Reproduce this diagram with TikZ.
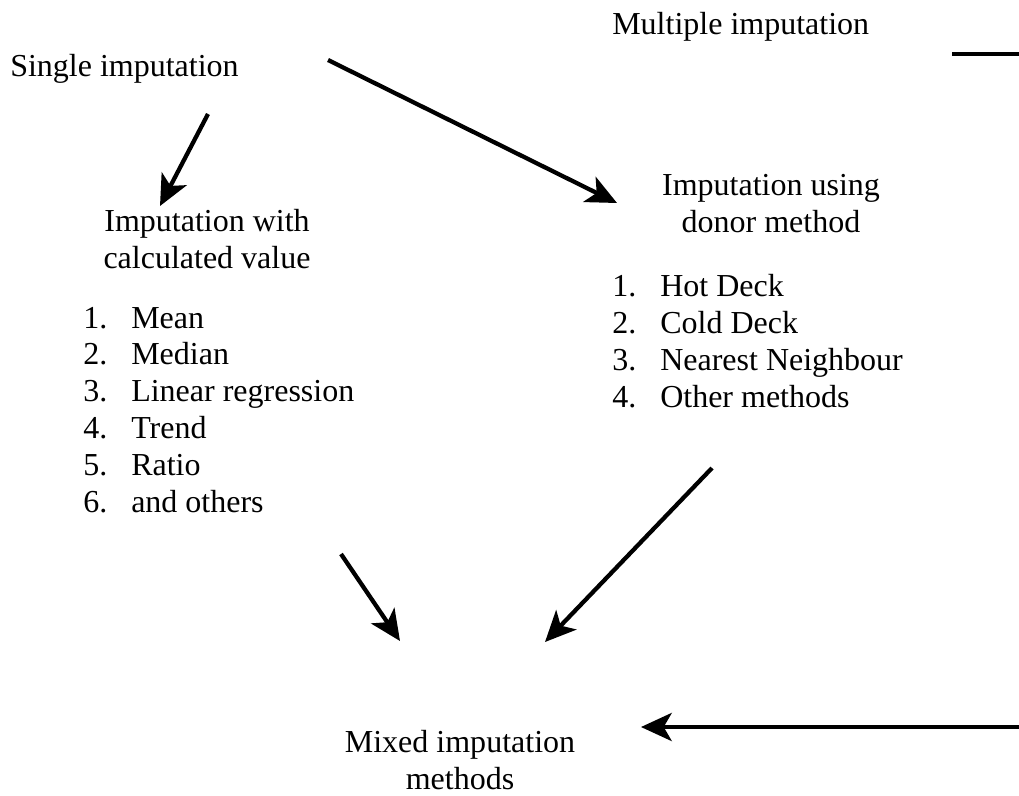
\documentclass[tikz,border=0pt]{standalone}
\usepackage{fontspec}
\setmainfont{Liberation Serif}
\usetikzlibrary{arrows.meta}

\newcommand{\numit}[1]{\makebox[36pt][l]{#1}}

\begin{document}
\begin{tikzpicture}[x=0.75pt,y=-0.75pt,
    txt/.style = {inner sep=0pt, font=\fontsize{24}{27.6}\selectfont},
    arr/.style = {line width=3.2pt, -{Stealth[length=23pt,width=21pt,inset=6pt]}}]
        \useasboundingbox (0,0) rectangle (1019,795);
        % headings (base = baseline of the last line)
        \node[txt, anchor=base west] (single) at (10,77) {Single imputation};
        \node[txt, anchor=base west] (multiple) at (612,35) {Multiple imputation};
        \node[txt, align=center, anchor=base] (calc) at (207,268) {Imputation with\\calculated value};
        \node[txt, align=center, anchor=base] (donor) at (771,232) {Imputation using\\donor method};
        \node[txt, align=center, anchor=base] (mixed) at (460,789) {Mixed imputation\\methods};
        % lists
        \node[txt, align=left, anchor=base west] (calclist) at (83,512) {\numit{1.}Mean\\\numit{2.}Median\\\numit{3.}Linear regression\\\numit{4.}Trend\\\numit{5.}Ratio\\\numit{6.}and others};
        \node[txt, align=left, anchor=base west] (donorlist) at (612,407) {\numit{1.}Hot Deck\\\numit{2.}Cold Deck\\\numit{3.}Nearest Neighbour\\\numit{4.}Other methods};
        % free ends of the arrows
        \coordinate (s1) at (208,114);
        \coordinate (c1) at (160,206);
        \coordinate (s2) at (328,60);
        \coordinate (d1) at (617,203);
        \coordinate (c2) at (341,554);
        \coordinate (m1) at (400,641);
        \coordinate (d2) at (712,468);
        \coordinate (m2) at (545,642);
        \coordinate (r1) at (1019,727);
        \coordinate (m3) at (641,727);
        \coordinate (r2) at (952,54);
        \coordinate (r3) at (1019,54);
        \draw[arr] (s1) -- (c1);
        \draw[arr] (s2) -- (d1);
        \draw[arr] (c2) -- (m1);
        \draw[arr] (d2) -- (m2);
        \draw[arr] (r1) -- (m3);
        \draw[line width=3.2pt] (r2) -- (r3);
\end{tikzpicture}
\end{document}
